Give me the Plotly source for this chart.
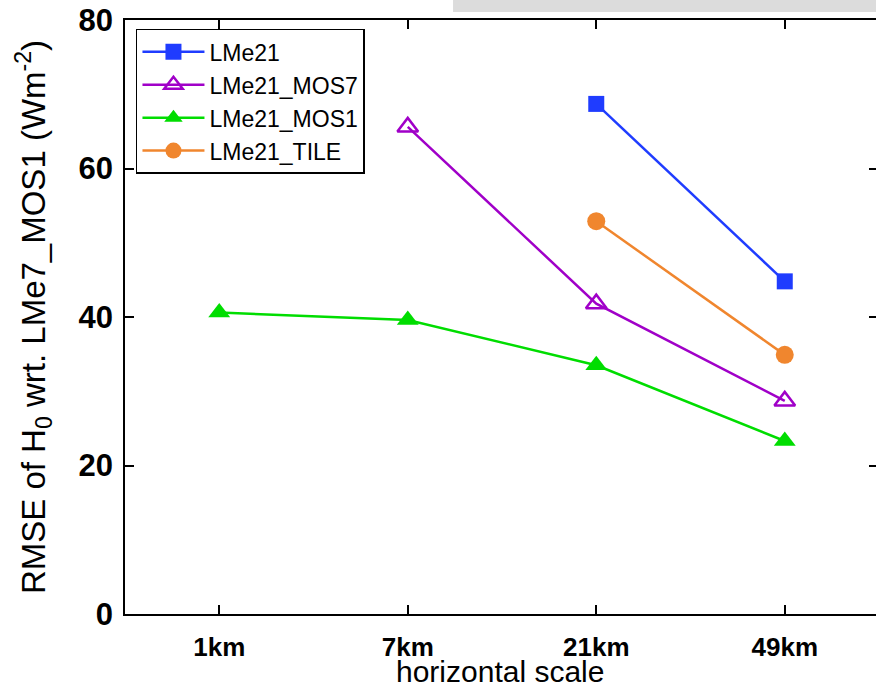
import plotly.graph_objects as go

categories = ["1km", "7km", "21km", "49km"]
x_pos = [1, 2, 3, 4]

lme21_x = [3, 4]
lme21 = [68.7, 44.8]

mos7_x = [2, 3, 4]
mos7 = [65.6, 41.8, 28.7]

mos1_x = [1, 2, 3, 4]
mos1 = [40.6, 39.6, 33.5, 23.3]

tile_x = [3, 4]
tile = [52.9, 34.9]

yticks = [0, 20, 40, 60, 80]

FONT = "Liberation Sans, Arial, sans-serif"

fig = go.Figure()
fig.add_trace(go.Scatter(x=lme21_x, y=lme21, name="LMe21", mode="lines+markers",
                         line=dict(color="#1f3cff", width=2.5),
                         marker=dict(symbol="square", size=16, color="#1f3cff")))
fig.add_trace(go.Scatter(x=mos7_x, y=mos7, name="LMe21_MOS7", mode="lines+markers",
                         line=dict(color="#a000c8", width=2.5),
                         marker=dict(symbol="triangle-up-open", size=18, color="#a000c8",
                                     line=dict(width=2.5, color="#a000c8"))))
fig.add_trace(go.Scatter(x=mos1_x, y=mos1, name="LMe21_MOS1", mode="lines+markers",
                         line=dict(color="#00dd00", width=2.5),
                         marker=dict(symbol="triangle-up", size=19, color="#00dd00")))
fig.add_trace(go.Scatter(x=tile_x, y=tile, name="LMe21_TILE", mode="lines+markers",
                         line=dict(color="#f0862e", width=2.5),
                         marker=dict(symbol="circle", size=18, color="#f0862e")))
fig.add_trace(go.Scatter(x=[], y=[], yaxis="y2", showlegend=False, hoverinfo="skip"))

fig.update_layout(
    width=876, height=688,
    margin=dict(l=125, r=0, t=20, b=74, pad=0),
    paper_bgcolor="white", plot_bgcolor="white",
    font=dict(family=FONT, color="black"),
    showlegend=True,
    legend=dict(x=0.0146, y=0.985, xanchor="left", yanchor="top",
                bordercolor="black", borderwidth=1.5, bgcolor="white",
                font=dict(family=FONT, size=23, color="black"),
                tracegroupgap=0, itemwidth=62),
    xaxis=dict(range=[0.5, 4.484], tickmode="array", tickvals=x_pos, ticktext=categories,
               showline=True, linecolor="black", linewidth=1.5, mirror="ticks",
               ticks="inside", ticklen=9, tickwidth=1.5, tickcolor="black",
               showgrid=False, zeroline=False, ticklabelstandoff=9,
               tickfont=dict(family=FONT, size=26, color="black", weight="bold"),
               automargin=False),
    yaxis=dict(range=[0, 80], tickmode="array", tickvals=yticks,
               showline=True, linecolor="black", linewidth=1.5, mirror=False,
               ticks="inside", ticklen=9, tickwidth=1.5, tickcolor="black",
               showgrid=False, zeroline=False, ticklabelstandoff=4,
               tickfont=dict(family=FONT, size=31, color="black", weight="bold"),
               title=dict(text="RMSE of H<sub>0</sub> wrt. LMe7_MOS1 (Wm<sup>-2</sup>)", standoff=23,
                          font=dict(family=FONT, size=33, color="black")),
               automargin=False),
    yaxis2=dict(range=[0, 80], overlaying="y", side="right", tickmode="array",
                tickvals=[20, 40, 60], ticks="inside", ticklen=7, tickwidth=1.5,
                tickcolor="black", showticklabels=False, showline=False,
                showgrid=False, zeroline=False, automargin=False),
    annotations=[dict(text="horizontal scale", xref="paper", yref="paper",
                      x=0.4995, y=(614 - 671) / 594, xanchor="center", yanchor="middle",
                      showarrow=False, font=dict(family=FONT, size=30, color="black"))],
    shapes=[dict(type="rect", xref="paper", yref="paper",
                 x0=0.4368, x1=1.0, y0=1.0135, y1=1.04,
                 fillcolor="#dcdcdc", line=dict(width=0), layer="below")],
)

fig.write_html("out.html")
